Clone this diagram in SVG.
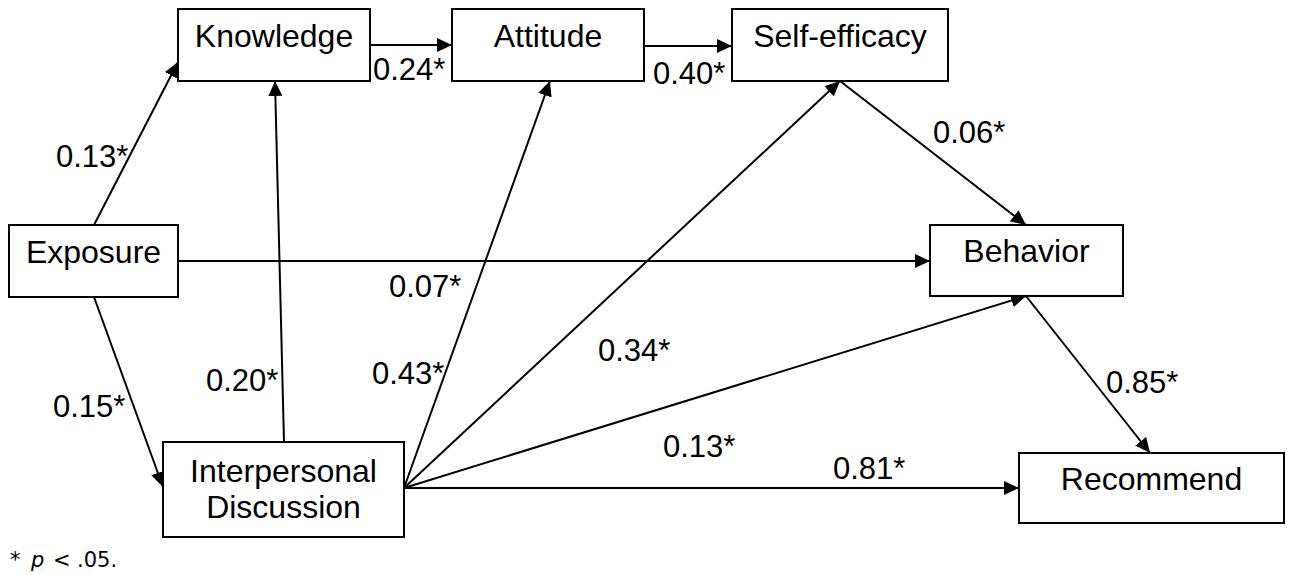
<svg xmlns="http://www.w3.org/2000/svg" width="1292" height="575" viewBox="0 0 1292 575">
<style>
.box{fill:#fff;stroke:#000;stroke-width:2}
.nt{font-family:"Liberation Sans",Arial,sans-serif;font-size:32px;fill:#000;text-anchor:middle}
.lb{font-family:"Liberation Sans",Arial,sans-serif;font-size:31px;fill:#000}
.ln{stroke:#000;stroke-width:2;fill:none;marker-end:url(#ah)}
.fn{font-family:"DejaVu Sans",sans-serif;font-size:21px;fill:#000}
</style>
<defs>
<marker id="ah" markerWidth="15" markerHeight="14" refX="15" refY="7" orient="auto" markerUnits="userSpaceOnUse">
<path d="M0,0 L15,7 L0,14 Z" fill="#000"/>
</marker>
</defs>
<rect width="1292" height="575" fill="#fff"/>
<g id="connectors">
<line class="ln" x1="94" y1="225" x2="178" y2="62"/>
<line class="ln" x1="370" y1="45" x2="452" y2="45"/>
<line class="ln" x1="644" y1="46" x2="732" y2="46"/>
<line class="ln" x1="284" y1="442" x2="275" y2="81"/>
<line class="ln" x1="404" y1="488" x2="550" y2="81"/>
<line class="ln" x1="404" y1="488" x2="840" y2="81"/>
<line class="ln" x1="840" y1="81" x2="1026" y2="225"/>
<line class="ln" x1="178" y1="261" x2="930" y2="261"/>
<line class="ln" x1="404" y1="488" x2="1026" y2="296"/>
<line class="ln" x1="1026" y1="296" x2="1150" y2="453"/>
<line class="ln" x1="404" y1="488" x2="1019" y2="488"/>
<line class="ln" x1="94" y1="297" x2="163" y2="487"/>
</g>
<g id="knowledge"><rect class="box" x="178" y="9" width="192" height="72"/><text class="nt" x="274" y="47">Knowledge</text></g>
<g id="attitude"><rect class="box" x="452" y="9" width="192" height="72"/><text class="nt" x="548" y="47">Attitude</text></g>
<g id="selfefficacy"><rect class="box" x="732" y="9" width="216" height="72"/><text class="nt" x="840" y="47">Self-efficacy</text></g>
<g id="exposure"><rect class="box" x="9" y="225" width="169" height="72"/><text class="nt" x="93.5" y="263">Exposure</text></g>
<g id="behavior"><rect class="box" x="930" y="225" width="193" height="71"/><text class="nt" x="1026.5" y="262">Behavior</text></g>
<g id="interpersonal"><rect class="box" x="163" y="442" width="241" height="95"/><text class="nt" x="283.5" y="482">Interpersonal</text><text class="nt" x="283.5" y="518">Discussion</text></g>
<g id="recommend"><rect class="box" x="1019" y="453" width="265" height="70"/><text class="nt" x="1151.5" y="490">Recommend</text></g>
<g id="labels">
<text class="lb" x="56" y="167">0.13*</text>
<text class="lb" x="373" y="80">0.24*</text>
<text class="lb" x="653" y="84">0.40*</text>
<text class="lb" x="933" y="143">0.06*</text>
<text class="lb" x="389" y="297">0.07*</text>
<text class="lb" x="372" y="384">0.43*</text>
<text class="lb" x="206" y="391">0.20*</text>
<text class="lb" x="53" y="417">0.15*</text>
<text class="lb" x="598" y="361">0.34*</text>
<text class="lb" x="663" y="457">0.13*</text>
<text class="lb" x="833" y="479">0.81*</text>
<text class="lb" x="1106" y="393">0.85*</text>
</g>
<text class="fn" y="567"><tspan x="10">*</tspan><tspan x="31" font-style="italic">p</tspan><tspan x="53">&lt;</tspan><tspan x="77">.05.</tspan></text>
</svg>
